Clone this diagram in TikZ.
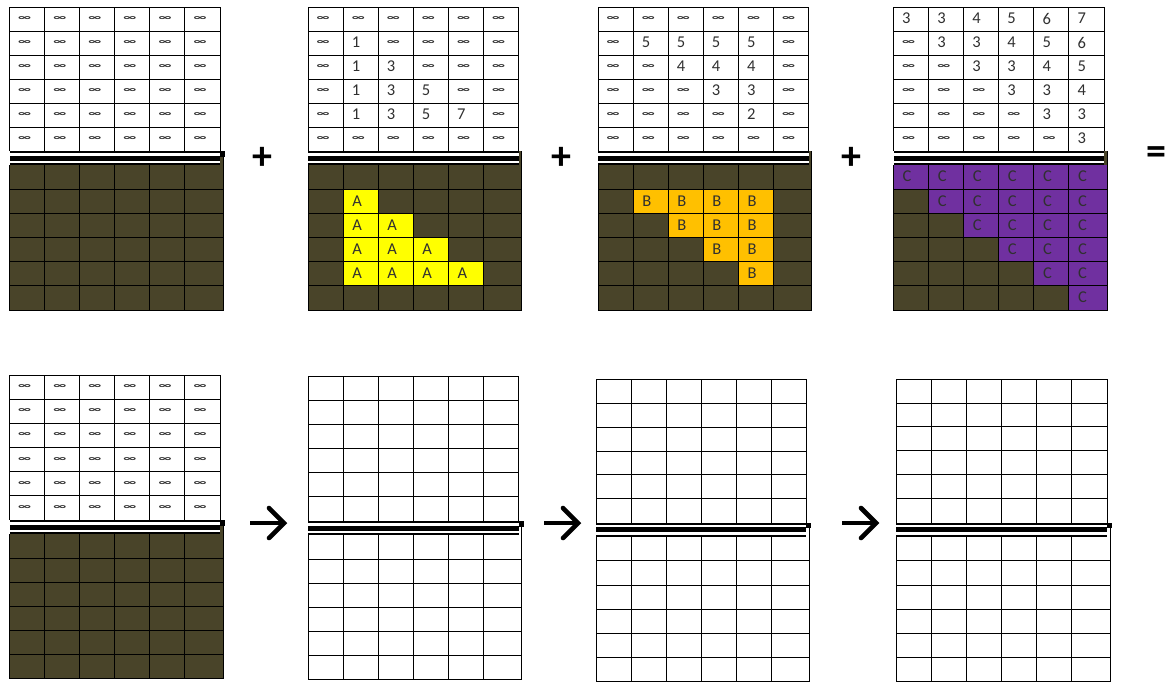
\documentclass[tikz,border=0pt]{standalone}
\usepackage{fontspec}
\setmainfont{Carlito}
\usepackage{graphicx}
\definecolor{cellbrown}{HTML}{494429}
\definecolor{cellyellow}{HTML}{FFFF00}
\definecolor{cellorange}{HTML}{FFC000}
\definecolor{cellpurple}{HTML}{7030A0}
\definecolor{txtgray}{HTML}{303030}
\newcommand\inff{{\fontsize{14}{14}\selectfont\bfseries\scalebox{1.1}[0.62]{∞}}}
% grid lines: x0 x1 yt yb ybot  (band 14 high below yb)
\newcommand\gridlines[5]{%
  \pgfmathsetmacro\gw{(#2-#1)/6}%
  \pgfmathsetmacro\gh{(#4-#3)/6}%
  \pgfmathsetmacro\gbt{#4+14}%
  \pgfmathsetmacro\gbh{(#5-\gbt)/6}%
  \foreach \i in {1,...,5} {
    \draw[gridline] ({#1+\i*\gw},#3) -- ({#1+\i*\gw},#4);
    \draw[gridline] (#1,{#3+\i*\gh}) -- (#2,{#3+\i*\gh});
    \draw[gridline] ({#1+\i*\gw},\gbt) -- ({#1+\i*\gw},#5);
    \draw[gridline] (#1,{\gbt+\i*\gbh}) -- ({#2+3},{\gbt+\i*\gbh});
  }
  \draw[gridline] (#1,#4) -- (#1,#3) -- (#2,#3) -- (#2,#4);
  \draw[gridline] (#1,\gbt) -- (#1,#5) -- ({#2+3},#5) -- ({#2+3},#4);
}
% band: x0 x1 yb square(1/0)
\newcommand\band[4]{%
  \fill[white] (#1,#3) rectangle (#2,{#3+14});
  \fill[black] (#1,#3) rectangle (#2,{#3+1.8});
  \fill[black] (#1,{#3+4.6}) rectangle (#2,{#3+9.6});
  \fill[black] (#1,{#3+12.2}) rectangle (#2,{#3+14});
  \ifnum#4=1 \fill[black] (#2,#3) rectangle ({#2+5},{#3+5.5});\fi
}
% top texts: name x0 x1 yt yb rows
\newcommand\toptext[6]{%
  \pgfmathsetmacro\gw{(#3-#2)/6}%
  \pgfmathsetmacro\gh{(#5-#4)/6}%
  \foreach \row [count=\r] in {#6} {
    \foreach \v [count=\c] in \row {
      \node[celltext] (#1-\r-\c) at ({#2+(\c-1)*\gw+8.5},{#4+(\r-0.5)*\gh-0.5}) {\v};
    }
  }
}
% coloured cell: x0 w ybt bh r c colour letter name
\newcommand\ccell[9]{%
  \fill[#7] ({#1+(#6-1)*#2},{#3+(#5-1)*#4}) rectangle ({#1+#6*#2+(#6==6)*3},{#3+#5*#4});
  \node[celltext] (#9) at ({#1+(#6-1)*#2+9},{#3+(#5-0.5)*#4-0.5}) {#8};
}
\begin{document}
\begin{tikzpicture}[x=1pt,y=-1pt,
  gridline/.style={line width=0.9pt,draw=black},
  celltext/.style={anchor=west,inner sep=0pt,text=txtgray,font=\fontsize{16.5}{16.5}\selectfont},
  opsym/.style={inner sep=0pt,font=\fontsize{40}{40}\selectfont\bfseries},
  arrowsym/.style={line width=4.6pt,draw=black}]
\useasboundingbox[fill=white] (0,0) rectangle (1171,681);

% ===== row 1 =====
% grid 1
\fill[cellbrown] (9.5,151) rectangle (223,310);
\band{9.5}{220}{151}{1}
\gridlines{9.5}{220}{7}{151}{310}
\toptext{ga}{9.5}{220}{7}{151}{{\inff,\inff,\inff,\inff,\inff,\inff},{\inff,\inff,\inff,\inff,\inff,\inff},{\inff,\inff,\inff,\inff,\inff,\inff},{\inff,\inff,\inff,\inff,\inff,\inff},{\inff,\inff,\inff,\inff,\inff,\inff},{\inff,\inff,\inff,\inff,\inff,\inff}}

% grid 2
\fill[cellbrown] (308,151) rectangle (521.5,310);
\foreach \r in {2,...,5} {\foreach \c in {2,...,\r} {\ccell{308}{35.083}{165}{24.167}{\r}{\c}{cellyellow}{A}{gb-a-\r-\c}}}
\band{308}{518.5}{151}{0}
\gridlines{308}{518.5}{7}{151}{310}
\toptext{gb}{308}{518.5}{7}{151}{{\inff,\inff,\inff,\inff,\inff,\inff},{\inff,1,\inff,\inff,\inff,\inff},{\inff,1,3,\inff,\inff,\inff},{\inff,1,3,5,\inff,\inff},{\inff,1,3,5,7,\inff},{\inff,\inff,\inff,\inff,\inff,\inff}}

% grid 3
\fill[cellbrown] (598,151) rectangle (811.5,310);
\foreach \r in {2,...,5} {\foreach \c in {\r,...,5} {\ccell{598}{35.083}{165}{24.167}{\r}{\c}{cellorange}{B}{gc-b-\r-\c}}}
\band{598}{808.5}{151}{0}
\gridlines{598}{808.5}{7}{151}{310}
\toptext{gc}{598}{808.5}{7}{151}{{\inff,\inff,\inff,\inff,\inff,\inff},{\inff,5,5,5,5,\inff},{\inff,\inff,4,4,4,\inff},{\inff,\inff,\inff,3,3,\inff},{\inff,\inff,\inff,\inff,2,\inff},{\inff,\inff,\inff,\inff,\inff,\inff}}

% grid 4
\fill[cellbrown] (893.5,151) rectangle (1107,310);
\foreach \r in {1,...,6} {\foreach \c in {\r,...,6} {\ccell{893.5}{35.083}{165}{24.167}{\r}{\c}{cellpurple}{C}{gd-c-\r-\c}}}
\band{893.5}{1104}{151}{0}
\gridlines{893.5}{1104}{7}{151}{310}
\toptext{gd}{893.5}{1104}{7}{151}{{3,3,4,5,6,7},{\inff,3,3,4,5,6},{\inff,\inff,3,3,4,5},{\inff,\inff,\inff,3,3,4},{\inff,\inff,\inff,\inff,3,3},{\inff,\inff,\inff,\inff,\inff,3}}

\node[opsym] (plus1) at (262,158) {+};
\node[opsym] (plus2) at (561.5,158) {+};
\node[opsym] (plus3) at (851.5,158) {+};
\node[opsym] (eq) at (1156.5,155.5) {=};

% ===== row 2 =====
\fill[cellbrown] (9.5,520) rectangle (223,678.5);
\band{9.5}{220}{520}{1}
\gridlines{9.5}{220}{375}{520}{678.5}
\toptext{ge}{9.5}{220}{375}{520}{{\inff,\inff,\inff,\inff,\inff,\inff},{\inff,\inff,\inff,\inff,\inff,\inff},{\inff,\inff,\inff,\inff,\inff,\inff},{\inff,\inff,\inff,\inff,\inff,\inff},{\inff,\inff,\inff,\inff,\inff,\inff},{\inff,\inff,\inff,\inff,\inff,\inff}}

\band{308}{518.5}{521}{1}
\gridlines{308}{518.5}{376}{521}{679.5}

\band{596}{806}{522.7}{1}
\gridlines{596}{806}{379.3}{522.7}{681.5}

\band{896}{1107}{522.7}{1}
\gridlines{896}{1107}{379}{522.7}{681.5}

% arrows
\foreach \ax [count=\k] in {250,544,842} {
  \coordinate (arr\k-s) at (\ax,523);
  \coordinate (arr\k-e) at (\ax+34,523);
  \draw[arrowsym] (arr\k-s) -- (arr\k-e);
  \draw[arrowsym,line join=miter,line cap=round] (\ax+19,508) -- (\ax+34,523) -- (\ax+19,538);
}
\end{tikzpicture}
\end{document}
